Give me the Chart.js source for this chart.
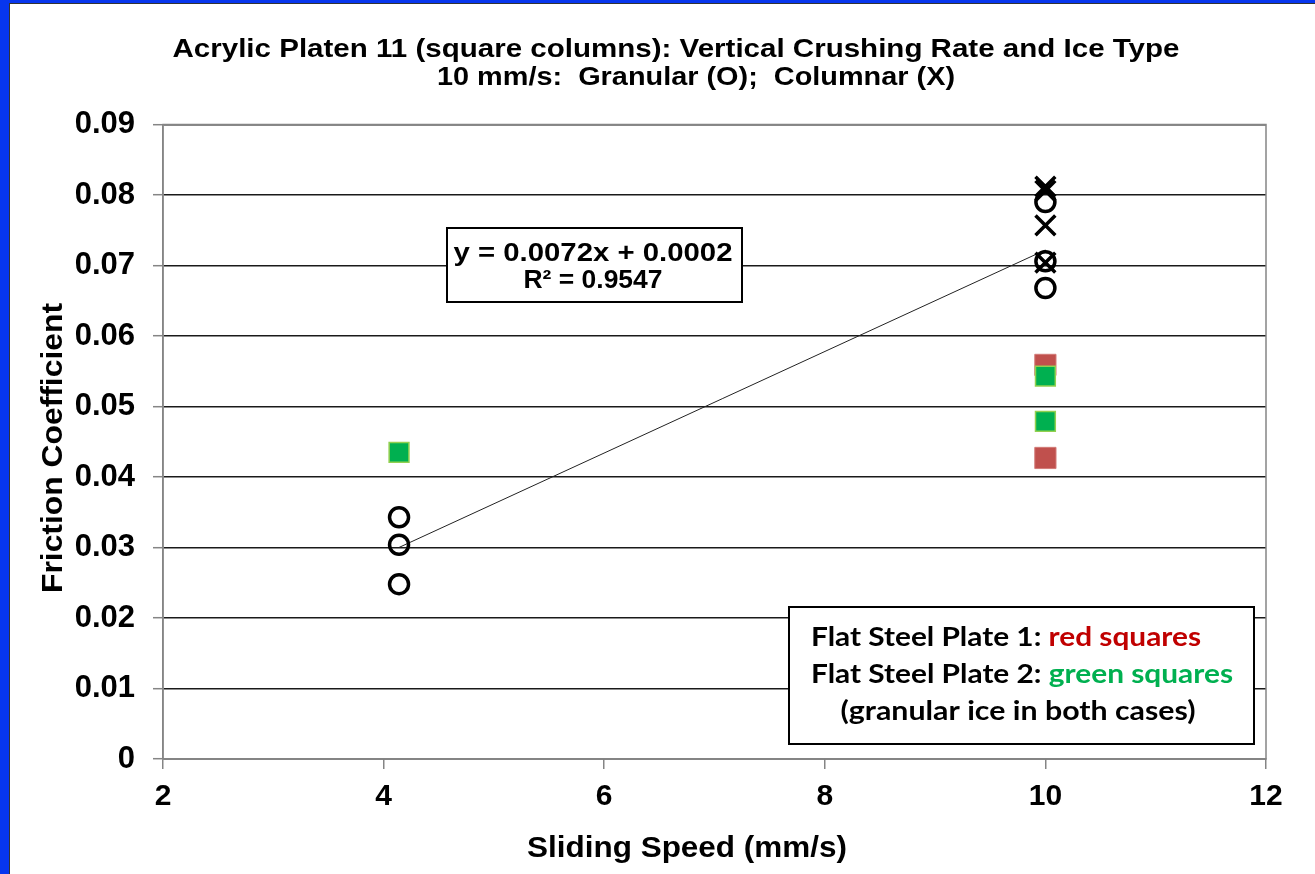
<!DOCTYPE html>
<html>
<head>
<meta charset="utf-8">
<script src="https://cdn.jsdelivr.net/npm/chart.js@4"></script>
<style>
  html, body { margin: 0; padding: 0; background: #0736ee; overflow: hidden; }
  #wrap {
    position: absolute; left: 9px; top: 3px;
    width: 1306px; height: 871px;
    background: #fff;
    border-left: 1px solid #333; border-top: 1px solid #333;
  }
  #chart { display: block; }
</style>
</head>
<body>
<div id="wrap"><canvas id="chart" width="1305" height="870"></canvas></div>
<script>
// sliding speed values (mm/s)
const speedLow = 4.14;
const speedHigh = 10;

// acrylic platen, granular ice (O)
const granularX = [speedLow, speedLow, speedLow, speedHigh, speedHigh, speedHigh];
const granularY = [0.0343, 0.0304, 0.0248, 0.0790, 0.0706, 0.0668];

// acrylic platen, columnar ice (X)
const columnarX = [speedHigh, speedHigh, speedHigh, speedHigh];
const columnarY = [0.0812, 0.0806, 0.0757, 0.0704];

// flat steel plate 1 (red) / plate 2 (green)
const plate1X = [speedHigh, speedHigh];
const plate1Y = [0.0559, 0.0427];
const plate2X = [speedLow, speedHigh, speedHigh];
const plate2Y = [0.0435, 0.0543, 0.0479];

// linear trendline shown in the chart
const trendSlope = 0.0072;
const trendIntercept = 0.0002;
const trendR2 = '0.9547';
const trendX = [speedLow, speedHigh];

// axis ticks
const xTicks = [2, 4, 6, 8, 10, 12];
const yTicks = [0, 0.01, 0.02, 0.03, 0.04, 0.05, 0.06, 0.07, 0.08, 0.09];

const toPoints = (xs, ys) => xs.map((x, i) => ({ x: x, y: ys[i] }));

const ARIAL = '"Liberation Sans", Arial, sans-serif';
const CALIBRI = 'Lato, "Open Sans", sans-serif';

// text pieces [string, colour], stretched sideways to the width seen in the original
function fitText(ctx, parts, x, y, width, align) {
  const total = parts.reduce((s, p) => s + ctx.measureText(p[0]).width, 0);
  const k = width / total;
  let left = x;
  if (align === 'center') left = x - width / 2;
  ctx.save();
  ctx.translate(left, y);
  ctx.scale(k, 1);
  ctx.textAlign = 'left';
  let cx = 0;
  parts.forEach(([str, col]) => {
    ctx.fillStyle = col;
    ctx.fillText(str, cx, 0);
    cx += ctx.measureText(str).width;
  });
  ctx.restore();
}

// title, axis titles, equation box, note box
const overlayPlugin = {
  id: 'overlay',
  afterDraw(chart) {
    const ctx = chart.ctx;
    const a = chart.chartArea;
    ctx.save();

    // plot border (top / right)
    ctx.strokeStyle = '#858585';
    ctx.lineWidth = 1.5;
    ctx.strokeRect(a.left, a.top, a.right - a.left, a.bottom - a.top);

    ctx.textBaseline = 'alphabetic';
    ctx.font = 'bold 25px ' + ARIAL;
    fitText(ctx, [['Acrylic Platen 11 (square columns): Vertical Crushing Rate and Ice Type', '#000']], 666, 53, 1007, 'center');
    fitText(ctx, [['10 mm/s:  Granular (O);  Columnar (X)', '#000']], 686, 81, 518, 'center');

    // axis titles
    ctx.font = 'bold 30px ' + ARIAL;
    fitText(ctx, [['Sliding Speed (mm/s)', '#000']], 677, 853, 320, 'center');
    ctx.save();
    ctx.translate(52, 444);
    ctx.rotate(-Math.PI / 2);
    fitText(ctx, [['Friction Coefficient', '#000']], 0, 0, 290, 'center');
    ctx.restore();

    // trendline equation
    ctx.fillStyle = '#fff';
    ctx.fillRect(437, 224, 295, 74);
    ctx.strokeStyle = '#000';
    ctx.lineWidth = 2;
    ctx.strokeRect(437, 224, 295, 74);
    ctx.font = 'bold 26px ' + ARIAL;
    fitText(ctx, [['y = ' + trendSlope + 'x + ' + trendIntercept.toFixed(4), '#000']], 583, 257, 279, 'center');
    fitText(ctx, [['R\u00B2 = ' + trendR2, '#000']], 583, 284, 139, 'center');

    // note box
    ctx.fillStyle = '#fff';
    ctx.fillRect(779, 603, 465, 137);
    ctx.strokeRect(779, 603, 465, 137);
    ctx.font = 'bold 26px ' + CALIBRI;
    fitText(ctx, [['Flat Steel Plate 1: ', '#000'], ['red squares', '#c00000']], 801, 642, 390, 'left');
    fitText(ctx, [['Flat Steel Plate 2: ', '#000'], ['green squares', '#00b050']], 801, 679, 422, 'left');
    fitText(ctx, [['(granular ice in both cases)', '#000']], 1008, 716, 355, 'center');

    ctx.restore();
  }
};

const config = {
  type: 'scatter',
  data: {
    datasets: [
      {
        label: 'Columnar',
        data: toPoints(columnarX, columnarY),
        pointStyle: 'crossRot',
        radius: 14,
        borderColor: '#000',
        borderWidth: 3.5,
        order: 1
      },
      {
        label: 'Granular',
        data: toPoints(granularX, granularY),
        pointStyle: 'circle',
        radius: 9.5,
        backgroundColor: 'rgba(0,0,0,0)',
        borderColor: '#000',
        borderWidth: 3.5,
        order: 2
      },
      {
        label: 'Plate 2',
        data: toPoints(plate2X, plate2Y),
        pointStyle: 'rect',
        radius: 14,
        backgroundColor: '#00b050',
        borderColor: '#92d050',
        borderWidth: 1.5,
        order: 3
      },
      {
        label: 'Plate 1',
        data: toPoints(plate1X, plate1Y),
        pointStyle: 'rect',
        radius: 15,
        backgroundColor: '#c0504d',
        borderColor: '#d37b78',
        borderWidth: 1,
        order: 4
      },
      {
        type: 'line',
        label: 'Trend',
        data: trendX.map(x => ({ x: x, y: trendSlope * x + trendIntercept })),
        borderColor: '#222',
        borderWidth: 1,
        pointRadius: 0,
        fill: false,
        order: 5
      }
    ]
  },
  options: {
    responsive: false,
    animation: false,
    events: [],
    layout: { padding: { top: 120.5, right: 49, left: 0, bottom: 0 } },
    plugins: {
      legend: { display: false },
      tooltip: { enabled: false }
    },
    scales: {
      x: {
        type: 'linear',
        min: xTicks[0],
        max: xTicks[xTicks.length - 1],
        afterBuildTicks(scale) { scale.ticks = xTicks.map(v => ({ value: v })); },
        afterFit(scale) { scale.height = 115; },
        ticks: {
          color: '#000',
          padding: 10,
          font: { family: ARIAL, size: 30, weight: 'bold' }
        },
        grid: { drawOnChartArea: false, drawTicks: true, tickLength: 10, color: '#858585', lineWidth: 1.5 },
        border: { color: '#858585', width: 1.5 }
      },
      y: {
        type: 'linear',
        min: yTicks[0],
        max: yTicks[yTicks.length - 1],
        afterBuildTicks(scale) { scale.ticks = yTicks.map(v => ({ value: v })); },
        afterFit(scale) { scale.width = 153; },
        ticks: {
          color: '#000',
          padding: 18,
          font: { family: ARIAL, size: 31, weight: 'bold' },
          callback: v => v === 0 ? '0' : v.toFixed(2)
        },
        grid: {
          color: '#1a1a1a',
          lineWidth: 1.4,
          tickLength: 10,
          tickColor: '#858585',
          tickWidth: 1.5
        },
        border: { color: '#858585', width: 1.5 }
      }
    }
  },
  plugins: [overlayPlugin]
};

// render
const frictionChart = new Chart(document.getElementById('chart'), config);
</script>
</body>
</html>
